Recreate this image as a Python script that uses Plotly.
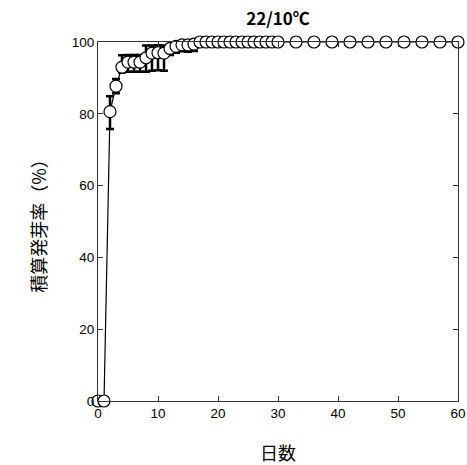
import plotly.graph_objects as go

days = list(range(0, 31)) + [33, 36, 39, 42, 45, 48, 51, 54, 57, 60]
rate = [0, 0, 80.6, 87.7, 93.0, 94.4, 94.4, 94.4, 95.6, 96.9, 97.0, 96.9, 98.2, 98.8, 99.2, 99.2, 99.4] + [100] * 24
err_plus = [0, 0, 4.3, 2.0, 3.3, 2.0, 2.0, 2.0, 3.4, 2.1, 2.1, 2.1, 0.5, 0.5, 0.5, 0.5, 0.5] + [0] * 24
err_minus = [0, 0, 4.8, 2.0, 1.5, 2.7, 2.7, 2.7, 3.9, 4.9, 4.9, 4.9, 1.8, 1.8, 1.8, 1.9, 1.9] + [0] * 24
x_ticks = [0, 10, 20, 30, 40, 50, 60]
y_ticks = [0, 20, 40, 60, 80, 100]

fig = go.Figure()
fig.add_trace(go.Scatter(
    x=days, y=rate,
    mode="lines+markers",
    line=dict(color="black", width=1.2),
    marker=dict(symbol="circle", size=12, color="white", line=dict(color="black", width=1.2)),
    error_y=dict(type="data", symmetric=False, array=err_plus, arrayminus=err_minus,
                 color="black", thickness=2.5, width=4),
    cliponaxis=False,
    showlegend=False,
))

fig.update_layout(
    width=467, height=465,
    margin=dict(l=98, r=9, t=42, b=64, autoexpand=False),
    paper_bgcolor="white", plot_bgcolor="white",
    font=dict(family="Liberation Sans, Arial, sans-serif", size=13.5, color="black"),
    title=dict(text="<b>22/10℃</b>", x=(98 + 458) / 2 / 467, xanchor="center", y=1 - 19 / 465, yanchor="middle",
               font=dict(family="Noto Sans CJK JP", size=17, color="black")),
)
fig.update_xaxes(
    range=[0, 60], tickvals=x_ticks, ticks="inside", ticklen=5, tickcolor="#333", automargin=False,
    showline=True, linecolor="#333", linewidth=1, mirror="ticks", showgrid=False, zeroline=False,
    title=dict(text="日数", font=dict(family="Noto Sans CJK JP", size=18), standoff=32),
)
fig.update_yaxes(
    range=[0, 100], tickvals=y_ticks, ticks="inside", ticklen=5, tickcolor="#333", automargin=False,
    showline=True, linecolor="#333", linewidth=1, mirror="ticks", showgrid=False, zeroline=False,
    title=dict(text="積算発芽率（%）", font=dict(family="Noto Sans CJK JP", size=18), standoff=20),
)

fig.write_html("out.html", config={"displayModeBar": False},
               post_script="document.body.style.margin='0';")
